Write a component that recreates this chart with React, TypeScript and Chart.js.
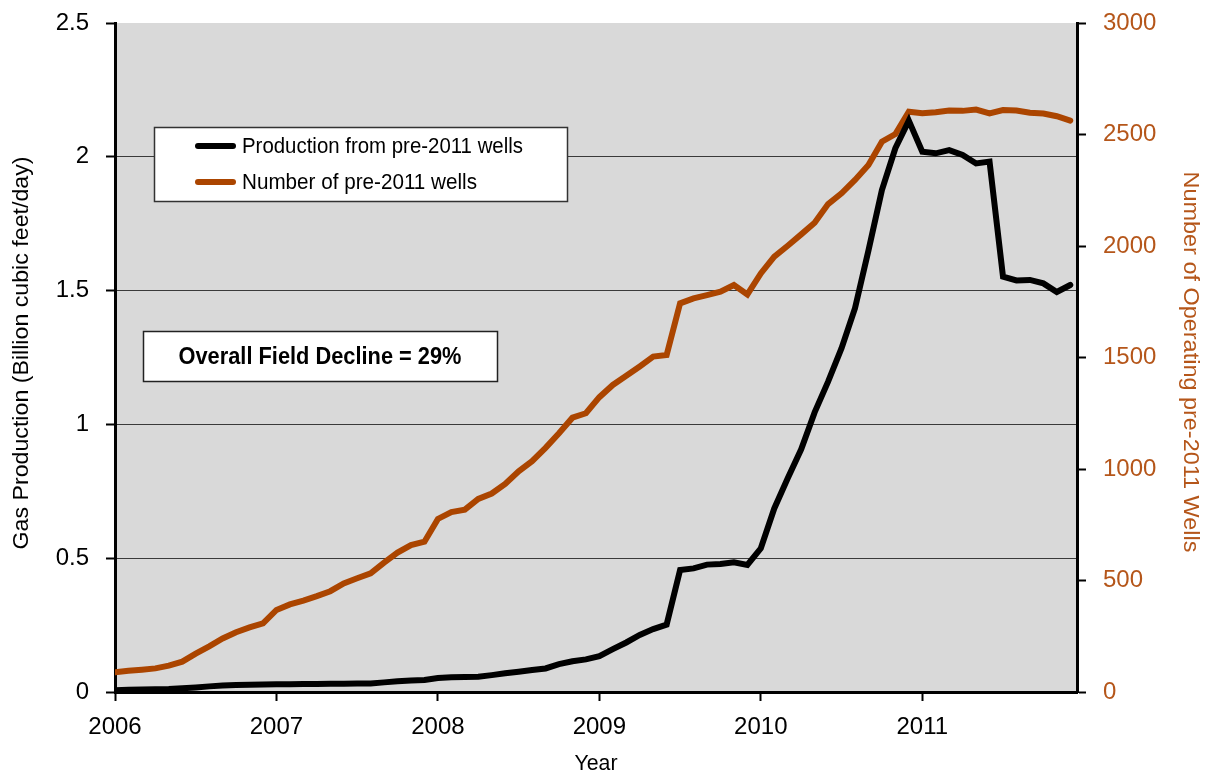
import React, { useEffect, useRef } from "react";
import { Chart, registerables } from "chart.js";

Chart.register(...registerables);

const startYear = 2006;
const yearTicks = [2006, 2007, 2008, 2009, 2010, 2011];

// Gas production from pre-2011 wells (Bcf/day), monthly Jan 2006 – Dec 2011
const production = [
  0.007, 0.008, 0.009, 0.010, 0.011, 0.014, 0.017, 0.021, 0.024, 0.026, 0.027, 0.028,
  0.029, 0.029, 0.030, 0.030, 0.031, 0.031, 0.032, 0.032, 0.036, 0.040, 0.043, 0.045,
  0.052, 0.055, 0.056, 0.057, 0.063, 0.070, 0.076, 0.082, 0.088, 0.104, 0.115, 0.122,
  0.134, 0.160, 0.185, 0.213, 0.235, 0.252, 0.456, 0.462, 0.476, 0.478, 0.485, 0.475,
  0.537, 0.686, 0.799, 0.907, 1.045, 1.160, 1.285, 1.434, 1.650, 1.876, 2.032, 2.135,
  2.019, 2.013, 2.025, 2.007, 1.975, 1.982, 1.552, 1.538, 1.540, 1.527, 1.495, 1.521,
];

// Number of operating pre-2011 wells, monthly Jan 2006 – Dec 2011
const wells = [
  88, 95, 100, 106, 118, 136, 172, 205, 240, 268, 290, 308,
  368, 393, 410, 430, 452, 487, 510, 532, 580, 625, 659, 674,
  776, 807, 818, 866, 890, 933, 990, 1035, 1095, 1160, 1230, 1250,
  1322, 1377, 1418, 1460, 1504, 1511, 1743, 1765, 1780, 1795, 1825, 1783,
  1877, 1952, 2001, 2052, 2104, 2188, 2236, 2296, 2363, 2468, 2502, 2602,
  2595, 2600, 2608, 2606, 2612, 2595, 2610, 2608, 2598, 2594, 2582, 2562,
];

const seriesNames = ["Production from pre-2011 wells", "Number of pre-2011 wells"];
const annotationText = "Overall Field Decline = 29%";
const leftTitle = "Gas Production (Billion cubic feet/day)";
const rightTitle = "Number of Operating pre-2011 Wells";
const xTitle = "Year";

const BLACK = "#000000";
const ORANGE = "#ab4500";
const ORANGE_TEXT = "#b5561a";
const SANS = "'Liberation Sans', Arial, sans-serif";

const monthX = (i: number) => startYear + i / 12;

// draw condensed text (the original uses a condensed typeface)
function narrowText(
  ctx: CanvasRenderingContext2D,
  text: string,
  x: number,
  y: number,
  opts: { size: number; bold?: boolean; width: number; rotate?: number; color: string; align?: "left" | "center" }
) {
  ctx.save();
  ctx.font = `${opts.bold ? "bold " : ""}${opts.size}px ${SANS}`;
  ctx.fillStyle = opts.color;
  ctx.textBaseline = "middle";
  ctx.textAlign = opts.align || "center";
  const w = ctx.measureText(text).width;
  const sx = opts.width / w;
  ctx.translate(x, y);
  if (opts.rotate) ctx.rotate(opts.rotate);
  ctx.scale(sx, 1);
  ctx.fillText(text, 0, 0);
  ctx.restore();
}

export default function App() {
  const canvasRef = useRef<HTMLCanvasElement | null>(null);

  useEffect(() => {
    document.body.style.margin = "0";
    const canvas = canvasRef.current;
    if (!canvas) return;

    const bgPlugin = {
      id: "plotBg",
      beforeDraw(chart: any) {
        const { ctx, chartArea } = chart;
        ctx.save();
        ctx.fillStyle = "#d9d9d9";
        ctx.fillRect(chartArea.left, chartArea.top, chartArea.right - chartArea.left, chartArea.bottom - chartArea.top);
        ctx.restore();
      },
    };

    const overlayPlugin = {
      id: "overlay",
      afterDraw(chart: any) {
        const { ctx, chartArea } = chart;
        ctx.save();
        // axis titles
        narrowText(ctx, leftTitle, 22, 353, { size: 22, width: 393, rotate: -Math.PI / 2, color: "#000" });
        narrowText(ctx, rightTitle, 1190, 362, { size: 22, width: 381, rotate: Math.PI / 2, color: ORANGE_TEXT });
        narrowText(ctx, xTitle, (chartArea.left + chartArea.right) / 2, 764, { size: 22, width: 43, color: "#000" });

        // legend box
        ctx.fillStyle = "#ffffff";
        ctx.fillRect(154, 127, 413, 74);
        ctx.strokeStyle = "#333333";
        ctx.lineWidth = 1.5;
        ctx.strokeRect(154.5, 127.5, 413, 74);
        const rows = [
          { y: 146, color: BLACK, text: seriesNames[0], w: 281 },
          { y: 182, color: ORANGE, text: seriesNames[1], w: 235 },
        ];
        ctx.lineCap = "round";
        for (const r of rows) {
          ctx.strokeStyle = r.color;
          ctx.lineWidth = 6;
          ctx.beginPath();
          ctx.moveTo(198, r.y);
          ctx.lineTo(233, r.y);
          ctx.stroke();
          narrowText(ctx, r.text, 242, r.y + 1, { size: 22, width: r.w, color: "#000", align: "left" });
        }
        // annotation box
        ctx.fillStyle = "#ffffff";
        ctx.fillRect(143, 331, 354, 50);
        ctx.strokeStyle = "#222222";
        ctx.lineWidth = 1.5;
        ctx.strokeRect(143.5, 331.5, 354, 50);
        narrowText(ctx, annotationText, 320, 357, { size: 24, bold: true, width: 283, color: "#000" });
        ctx.restore();
      },
    };

    const noVertPad = (w: number) => (s: any) => {
      s.width = w;
      s.paddingTop = 0;
      s.paddingBottom = 0;
    };

    const chart = new Chart(canvas, {
      type: "line",
      data: {
        datasets: [
          {
            label: seriesNames[0],
            data: production.map((v, i) => ({ x: monthX(i), y: v })),
            borderColor: BLACK,
            backgroundColor: BLACK,
            borderWidth: 6,
            pointRadius: 0,
            tension: 0,
            borderCapStyle: "round",
            yAxisID: "y",
            order: 0,
          },
          {
            label: seriesNames[1],
            data: wells.map((v, i) => ({ x: monthX(i), y: v })),
            borderColor: ORANGE,
            backgroundColor: ORANGE,
            borderWidth: 6,
            pointRadius: 0,
            tension: 0,
            borderCapStyle: "round",
            yAxisID: "y2",
            order: 1,
          },
        ],
      },
      options: {
        responsive: false,
        animation: false,
        devicePixelRatio: 1,
        layout: { padding: { top: 23, left: 0, right: 0, bottom: 0 } },
        plugins: {
          legend: { display: false },
          tooltip: { enabled: false },
        },
        scales: {
          x: {
            type: "linear",
            min: startYear,
            max: startYear + (production.length - 0.5) / 12,
            afterFit: (s: any) => { s.height = 83; s.paddingLeft = 0; s.paddingRight = 0; },
            afterBuildTicks: (s: any) => { s.ticks = yearTicks.map((v) => ({ value: v })); },
            ticks: {
              callback: (v: any) => String(v),
              color: "#000",
              font: { family: SANS, size: 24 },
              padding: 12,
              maxRotation: 0,
              autoSkip: false,
            },
            grid: { drawOnChartArea: false, drawTicks: true, tickLength: 9, tickColor: "#000", tickWidth: 2 },
            border: { display: true, color: "#000", width: 3 },
          },
          y: {
            position: "left",
            min: 0,
            max: 2.5,
            afterFit: noVertPad(115),
            ticks: {
              stepSize: 0.5,
              callback: (v: any) => String(v),
              color: "#000",
              font: { family: SANS, size: 24 },
              padding: 17,
            },
            grid: {
              color: (c: any) => (c.tick && (c.tick.value === 0 || c.tick.value === 2.5) ? "rgba(0,0,0,0)" : "#3a3a3a"),
              lineWidth: 1,
              tickLength: 9,
              tickColor: "#000",
              tickWidth: 2,
            },
            border: { display: true, color: "#000", width: 3 },
          },
          y2: {
            position: "right",
            min: 0,
            max: 3000,
            afterFit: noVertPad(133),
            ticks: {
              stepSize: 500,
              callback: (v: any) => String(v),
              color: ORANGE_TEXT,
              font: { family: SANS, size: 24 },
              padding: 17,
            },
            grid: { drawOnChartArea: false, tickLength: 9, tickColor: "#000", tickWidth: 2 },
            border: { display: true, color: "#000", width: 3 },
          },
        },
      },
      plugins: [bgPlugin, overlayPlugin],
    } as any);

    return () => chart.destroy();
  }, []);

  return (
    <div style={{ width: 1210, height: 775 }}>
      <canvas ref={canvasRef} width={1210} height={775} />
    </div>
  );
}
